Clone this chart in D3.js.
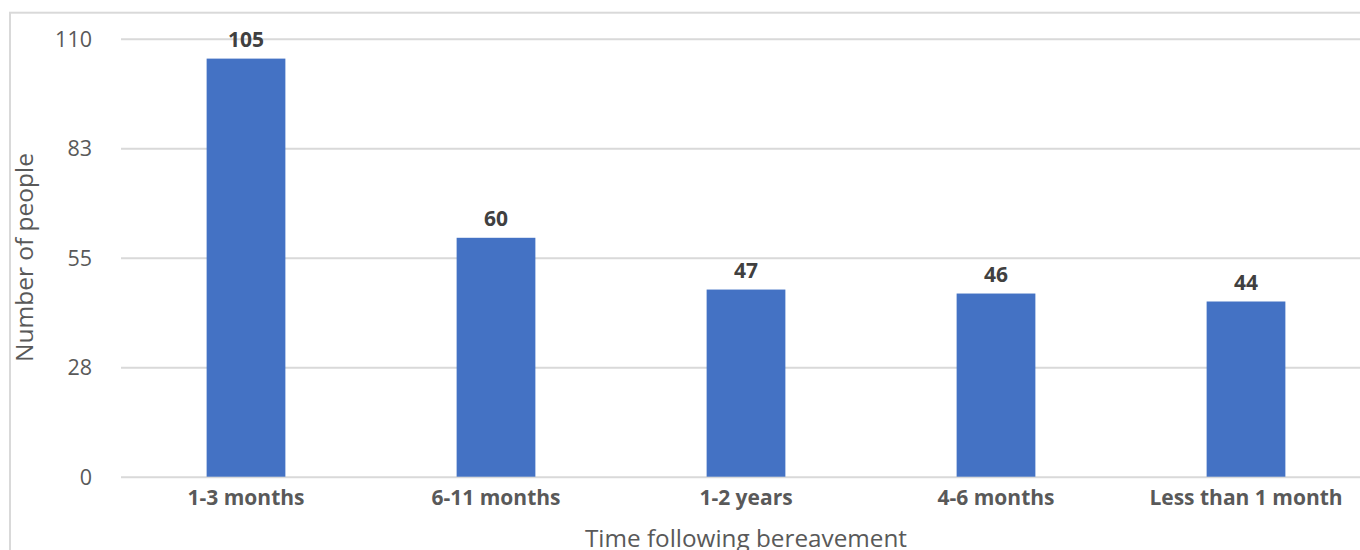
<!DOCTYPE html>
<html>
<head>
<meta charset="utf-8">
<script src="https://cdn.jsdelivr.net/npm/d3@7"></script>
<style>
  html, body { margin: 0; padding: 0; background: #ffffff; overflow: hidden; }
  svg { display: block; font-family: "Open Sans", "Noto Sans", sans-serif; }
</style>
</head>
<body>
<svg id="chart" width="1360" height="550"></svg>
<script>
// Respondents by time elapsed since bereavement
const categories = ["1-3 months", "6-11 months", "1-2 years", "4-6 months", "Less than 1 month"];
const counts = [105, 60, 47, 46, 44];
const yTickValues = [0, 27.5, 55, 82.5, 110];
const yAxisTitle = "Number of people";
const xAxisTitle = "Time following bereavement";

const svg = d3.select("#chart");
const plot = { left: 121, right: 1371, top: 38.7, bottom: 476.7 };

const x = d3.scaleBand()
  .domain(categories)
  .range([plot.left, plot.right])
  .paddingInner(0.685)
  .paddingOuter(0.685 / 2);

const y = d3.scaleLinear()
  .domain([0, 110])
  .range([plot.bottom, plot.top]);

// Outer chart frame (its right and bottom edges run past the viewport)
svg.append("rect")
  .attr("x", 10).attr("y", 12.7)
  .attr("width", 1400).attr("height", 600)
  .attr("fill", "none")
  .attr("stroke", "#d9d9d9")
  .attr("stroke-width", 2);

// Horizontal gridlines and tick labels
const yAxis = d3.axisLeft(y)
  .tickValues(yTickValues)
  .tickSize(-(plot.right - plot.left))
  .tickPadding(29)
  .tickFormat(d => Math.round(d));

const yG = svg.append("g")
  .attr("transform", `translate(${plot.left},0)`)
  .call(yAxis);
yG.select(".domain").remove();
yG.selectAll(".tick line")
  .attr("stroke", "#d9d9d9")
  .attr("stroke-width", 2);
yG.selectAll(".tick text")
  .attr("fill", "#595959")
  .attr("font-size", "21.5px")
  .attr("font-family", "'Open Sans', sans-serif")
  .attr("dy", "0.36em");

// Bars
svg.append("g")
  .selectAll("rect")
  .data(counts)
  .join("rect")
  .attr("x", (d, i) => x(categories[i]))
  .attr("y", d => y(d))
  .attr("width", x.bandwidth())
  .attr("height", d => y(0) - y(d))
  .attr("fill", "#4472c4");

// Value labels above bars
svg.append("g")
  .selectAll("text")
  .data(counts)
  .join("text")
  .attr("x", (d, i) => x(categories[i]) + x.bandwidth() / 2)
  .attr("y", d => y(d) - 12)
  .attr("text-anchor", "middle")
  .attr("font-size", "21px")
  .attr("font-weight", "bold")
  .attr("fill", "#404040")
  .text(d => d);

// Category axis
const xAxis = d3.axisBottom(x).tickSize(0).tickPadding(0);
const xG = svg.append("g")
  .attr("transform", `translate(0,${plot.bottom})`)
  .call(xAxis);
xG.select(".domain").remove();
xG.selectAll(".tick text")
  .attr("y", 28.3)
  .attr("dy", 0)
  .attr("fill", "#595959")
  .attr("font-size", "21px")
  .attr("font-weight", "bold")
  .attr("font-family", "'Open Sans', sans-serif");

// Axis titles
svg.append("text")
  .attr("transform", `translate(33,257.5) rotate(-90)`)
  .attr("text-anchor", "middle")
  .attr("font-size", "24.5px")
  .attr("fill", "#595959")
  .text(yAxisTitle);

svg.append("text")
  .attr("x", (plot.left + plot.right) / 2)
  .attr("y", 547)
  .attr("text-anchor", "middle")
  .attr("font-size", "24.3px")
  .attr("fill", "#595959")
  .text(xAxisTitle);
</script>
</body>
</html>
